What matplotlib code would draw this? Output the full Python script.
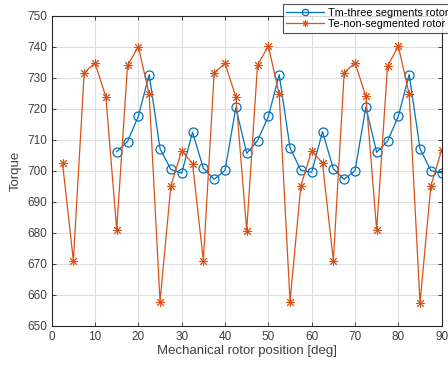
import matplotlib
matplotlib.use("Agg")
import matplotlib.pyplot as plt
import numpy as np

plt.rcParams['font.family'] = ['Liberation Sans', 'DejaVu Sans']

pos_te = [2.5, 5, 7.5, 10, 12.5, 15, 17.5, 20, 22.5, 25, 27.5, 30, 32.5, 35, 37.5, 40, 42.5, 45,
          47.5, 50, 52.5, 55, 57.5, 60, 62.5, 65, 67.5, 70, 72.5, 75, 77.5, 80, 82.5, 85, 87.5, 90]
te_non_segmented = [702.4, 671.0, 731.6, 734.8, 723.8, 681.0, 734.0, 740.0, 724.6, 657.8, 695.1, 706.5,
                    702.3, 671.0, 731.6, 734.6, 723.8, 680.7, 734.1, 740.2, 724.6, 657.8, 695.1, 706.5,
                    702.4, 671.0, 731.6, 734.8, 724.0, 680.9, 733.7, 740.2, 724.6, 657.4, 695.1, 706.7]

pos_tm = [15, 17.5, 20, 22.5, 25, 27.5, 30, 32.5, 35, 37.5, 40, 42.5, 45, 47.5, 50, 52.5,
          55, 57.5, 60, 62.5, 65, 67.5, 70, 72.5, 75, 77.5, 80, 82.5, 85, 87.5, 90]
tm_three_segments = [706.1, 709.4, 717.6, 731.0, 707.1, 700.4, 699.2, 712.4, 700.8, 697.2, 700.1,
                     720.4, 705.6, 709.7, 717.5, 731.0, 707.4, 700.1, 699.5, 712.6, 700.6, 697.2,
                     700.0, 720.5, 705.9, 709.5, 717.6, 731.0, 707.1, 700.0, 699.3]

xticks = [0, 10, 20, 30, 40, 50, 60, 70, 80, 90]
yticks = [650, 660, 670, 680, 690, 700, 710, 720, 730, 740, 750]

blue = '#0072BD'
orange = '#D95319'
axcol = '#262626'
tickcol = '#404040'

fig = plt.figure(figsize=(4.48, 3.65), dpi=100)
ax = fig.add_axes([0.1154, 0.1077, 0.8705, 0.8493])

ax.plot(pos_tm, tm_three_segments, color=blue, lw=0.9, marker='o', ms=6.5,
        mfc='none', mec=blue, mew=0.9, label='Tm-three segments rotor')
ax.plot(pos_te, te_non_segmented, color=orange, lw=0.9, marker=(8, 2, 0), ms=6.5,
        mec=orange, mew=0.7, label='Te-non-segmented rotor')

ax.set_xlim(0, 90)
ax.set_ylim(650, 750)
ax.set_xticks(xticks)
ax.set_yticks(yticks)
ax.grid(True, color='#DFDFDF', lw=0.8)
ax.set_axisbelow(True)
for s in ax.spines.values():
    s.set_color(axcol)
    s.set_linewidth(0.8)
ax.tick_params(direction='in', length=3, width=0.6, colors=axcol, labelsize=8.5,
               top=True, right=True, labelcolor=tickcol)
ax.set_xlabel('Mechanical rotor position [deg]', fontsize=9.5, color=tickcol, labelpad=2)
ax.set_ylabel('Torque', fontsize=9.5, color=tickcol, labelpad=4)

leg = ax.legend(loc='upper left', bbox_to_anchor=(0.631, 0.988), bbox_transform=fig.transFigure,
                fontsize=7.8, frameon=True, fancybox=False, borderpad=0.3, labelspacing=0.15,
                handlelength=3.5, handletextpad=0.35, borderaxespad=0, markerscale=0.7)
leg.get_frame().set_edgecolor(axcol)
leg.get_frame().set_linewidth(0.8)
for t in leg.get_texts():
    t.set_color('#000000')

fig.savefig('out.png', dpi=100)
